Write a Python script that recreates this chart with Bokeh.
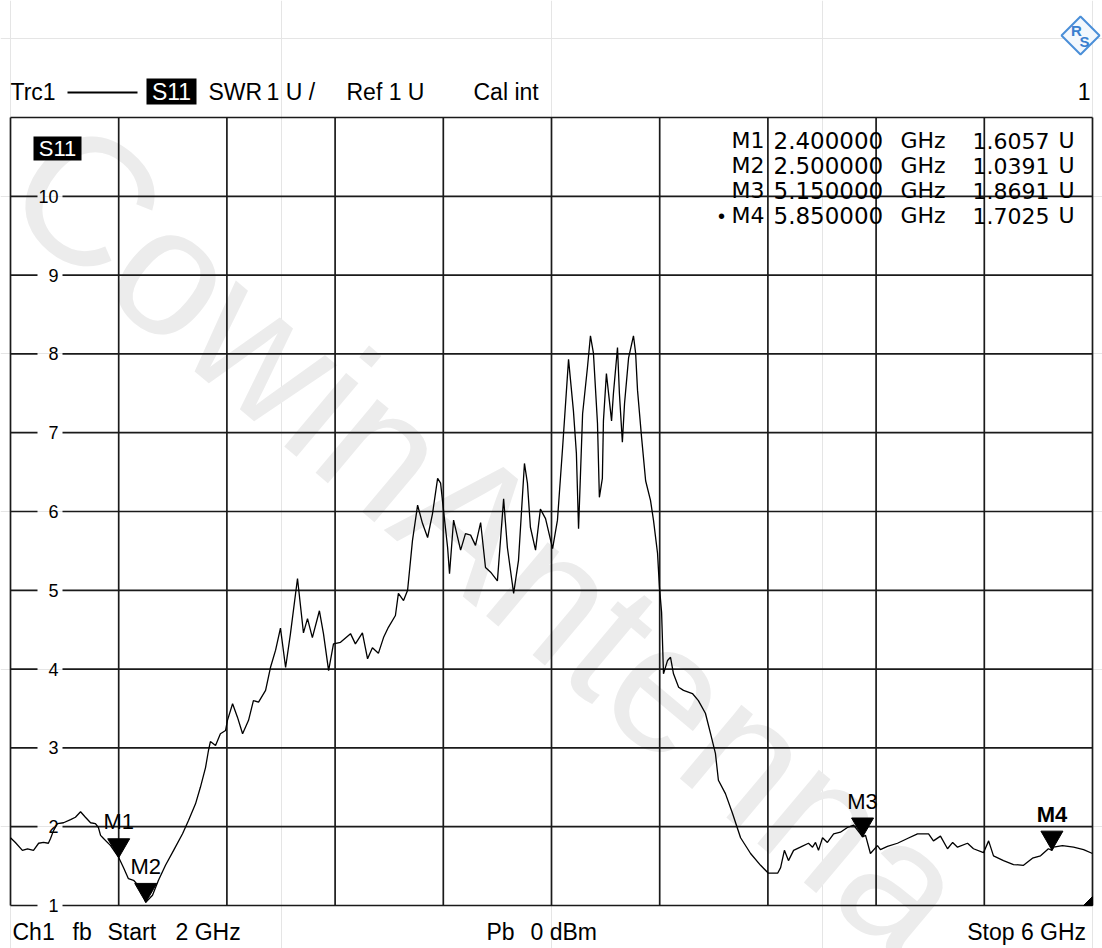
from bokeh.plotting import figure
from bokeh.models import Range1d
from bokeh.core.properties import value
from bokeh.embed import file_html
from bokeh.resources import INLINE

# ---------------- data ----------------
freq_ghz = [
    2.000, 2.018, 2.044, 2.063, 2.085, 2.104, 2.122, 2.140, 2.148, 2.159,
    2.174, 2.196, 2.222, 2.240, 2.259, 2.277, 2.296, 2.314, 2.325, 2.333,
    2.344, 2.370, 2.400, 2.418, 2.436, 2.455, 2.481, 2.500, 2.525, 2.547,
    2.573, 2.603, 2.636, 2.658, 2.684, 2.702, 2.721, 2.732, 2.739, 2.758,
    2.776, 2.795, 2.802, 2.821, 2.839, 2.858, 2.880, 2.898, 2.917, 2.943,
    2.961, 2.980, 2.998, 3.017, 3.035, 3.061, 3.083, 3.098, 3.116, 3.142,
    3.157, 3.176, 3.194, 3.220, 3.257, 3.275, 3.301, 3.320, 3.338, 3.360,
    3.379, 3.397, 3.423, 3.434, 3.453, 3.468, 3.486, 3.505, 3.523, 3.542,
    3.560, 3.579, 3.590, 3.601, 3.616, 3.623, 3.638, 3.664, 3.682, 3.701,
    3.719, 3.738, 3.756, 3.775, 3.800, 3.823, 3.837, 3.860, 3.878, 3.900,
    3.911, 3.922, 3.941, 3.959, 3.978, 4.004, 4.022, 4.041, 4.063, 4.081,
    4.092, 4.100, 4.115, 4.133, 4.144, 4.155, 4.170, 4.177, 4.188, 4.192,
    4.203, 4.218, 4.222, 4.229, 4.244, 4.251, 4.262, 4.270, 4.285, 4.303,
    4.311, 4.318, 4.333, 4.348, 4.366, 4.377, 4.392, 4.399, 4.407, 4.414,
    4.429, 4.440, 4.451, 4.470, 4.488, 4.521, 4.543, 4.569, 4.588, 4.606,
    4.617, 4.643, 4.669, 4.699, 4.736, 4.773, 4.802, 4.836, 4.847, 4.861,
    4.876, 4.895, 4.920, 4.950, 4.965, 4.976, 4.987, 5.002, 5.020, 5.043,
    5.068, 5.094, 5.117, 5.142, 5.150, 5.161, 5.179, 5.205, 5.216, 5.242,
    5.279, 5.316, 5.353, 5.394, 5.412, 5.438, 5.464, 5.483, 5.501, 5.538,
    5.560, 5.597, 5.616, 5.634, 5.671, 5.708, 5.745, 5.778, 5.808, 5.837,
    5.850, 5.856, 5.889, 5.930, 5.967, 6.000]

swr = [
    1.86, 1.80, 1.70, 1.72, 1.70, 1.79, 1.80, 1.79, 1.85, 1.95,
    2.04, 2.05, 2.09, 2.12, 2.19, 2.12, 2.05, 2.04, 1.99, 1.89,
    1.85, 1.76, 1.61, 1.48, 1.34, 1.32, 1.22, 1.04, 1.13, 1.32,
    1.51, 1.70, 1.91, 2.08, 2.29, 2.50, 2.75, 2.97, 3.08, 3.03,
    3.18, 3.22, 3.35, 3.56, 3.39, 3.18, 3.35, 3.60, 3.58, 3.73,
    4.02, 4.24, 4.52, 4.02, 4.45, 5.15, 4.46, 4.64, 4.40, 4.74,
    4.45, 3.98, 4.32, 4.34, 4.45, 4.32, 4.46, 4.13, 4.27, 4.20,
    4.40, 4.53, 4.68, 4.96, 4.87, 5.00, 5.63, 6.08, 5.85, 5.67,
    5.97, 6.42, 6.36, 6.01, 5.54, 5.21, 5.89, 5.51, 5.72, 5.70,
    5.57, 5.86, 5.29, 5.23, 5.12, 6.16, 5.54, 4.96, 5.38, 6.61,
    6.36, 5.80, 5.51, 6.03, 5.91, 5.53, 5.89, 6.81, 7.93, 7.28,
    6.74, 5.78, 7.24, 7.83, 8.23, 8.01, 7.12, 6.18, 6.42, 7.15,
    7.75, 7.28, 7.15, 7.50, 8.08, 7.50, 6.88, 7.37, 7.95, 8.23,
    8.01, 7.54, 6.94, 6.39, 6.14, 5.89, 5.47, 5.04, 4.72, 3.94,
    4.11, 4.15, 3.94, 3.77, 3.73, 3.69, 3.60, 3.44, 3.18, 2.93,
    2.59, 2.42, 2.17, 1.86, 1.66, 1.51, 1.41, 1.41, 1.48, 1.70,
    1.57, 1.70, 1.74, 1.79, 1.74, 1.80, 1.70, 1.86, 1.80, 1.91,
    1.93, 1.99, 2.02, 1.91, 1.87, 1.89, 1.66, 1.76, 1.71, 1.75,
    1.79, 1.85, 1.91, 1.91, 1.82, 1.88, 1.72, 1.80, 1.74, 1.79,
    1.72, 1.67, 1.82, 1.63, 1.57, 1.52, 1.51, 1.60, 1.63, 1.72,
    1.70, 1.74, 1.76, 1.74, 1.71, 1.66]

marker_names = ["M1", "M2", "M3", "M4"]
marker_freq = [2.40, 2.50, 5.15, 5.85]
marker_swr = [1.6057, 1.0391, 1.8691, 1.7025]
marker_freq_text = ["2.400000", "2.500000", "5.150000", "5.850000"]
marker_val_text = ["1.6057", "1.0391", "1.8691", "1.7025"]

x_grid = [2.0, 2.4, 2.8, 3.2, 3.6, 4.0, 4.4, 4.8, 5.2, 5.6, 6.0]
y_tick_values = [1, 2, 3, 4, 5, 6, 7, 8, 9, 10]
y_tick_labels = ["1", "2", "3", "4", "5", "6", "7", "8", "9", "10"]
y_top = 11

# ---------------- layout helpers (canvas pixels -> data) ----------------
F0, F1, Y0, Y1 = 2.0, 6.0, 1.0, 11.0
PX_L, PX_R, PY_T, PY_B = 10.0, 1092.0, 117.0, 905.0
SX = (F1 - F0) / (PX_R - PX_L)
SY = (Y1 - Y0) / (PY_B - PY_T)
W, H = 1102, 948


def fx(px):
    return F0 + (px - PX_L) * SX


def fy(py):
    return Y0 + (PY_B - py) * SY


p = figure(width=W, height=H, title=None,
           x_range=Range1d(fx(0), fx(W)), y_range=Range1d(fy(H), fy(0)),
           output_backend="svg", toolbar_location=None,
           x_axis_location=None, y_axis_location=None,
           min_border=0, min_border_left=0, min_border_right=0,
           min_border_top=0, min_border_bottom=0,
           outline_line_color=None, background_fill_color="white",
           border_fill_color="white")

FONT = "Liberation Sans"
TFONT = "DejaVu Sans"


def txt(px, py, s, size="22px", align="left", color="black", style="normal",
        font=FONT, angle=0.0, baseline="middle"):
    p.text(x=[fx(px)], y=[fy(py)], text=[s], text_font=value(font),
           text_font_size=size, text_align=align, text_baseline=baseline,
           text_color=color, text_font_style=style, angle=angle,
           angle_units="deg")


# watermark
txt(36, 156, "CowinAntenna", size="182px", color="#ececec", angle=-40,
    baseline="alphabetic")

# grid (vertical)
p.segment(x0=x_grid, y0=[Y0] * len(x_grid), x1=x_grid, y1=[Y1] * len(x_grid),
          line_color="#1a1a1a", line_width=1.7)
# grid (horizontal, with gaps where labels sit)
hx0, hx1, hy = [], [], []
for t in y_tick_values:
    hx0 += [F0, fx(62)]
    hx1 += [fx(37), F1]
    hy += [t, t]
hx0.append(F0)
hx1.append(F1)
hy.append(y_top)
p.segment(x0=hx0, y0=hy, x1=hx1, y1=hy, line_color="#1a1a1a", line_width=1.7)

for t, lab in zip(y_tick_values, y_tick_labels):
    txt(58, PY_B - (t - Y0) / SY, lab, size="18px", align="right")

# trace
p.line(freq_ghz, swr, line_color="black", line_width=1.3)

# out-of-range indicator bottom-right
p.patch([fx(1083), F1, F1], [Y0, Y0, fy(896)], fill_color="black",
        line_color="black")

# markers
dx = 11 * SX
dh = 19 * SY
p.patches(xs=[[f - dx, f + dx, f] for f in marker_freq],
          ys=[[v + dh, v + dh, v] for v in marker_swr],
          fill_color="black", line_color="black")
for name, f, v in zip(marker_names, marker_freq, marker_swr):
    py = PY_B - (v - Y0) / SY - 36
    px = PX_L + (f - F0) / SX
    txt(px, py, name, size="22px", align="center",
        style="bold" if name == "M4" else "normal")

# header
txt(10, 91, "Trc1", size="23px")
p.segment(x0=[fx(67)], y0=[fy(92)], x1=[fx(137)], y1=[fy(92)],
          line_color="black", line_width=2)
p.quad(left=[fx(146)], right=[fx(196)], top=[fy(78)], bottom=[fy(104)],
       fill_color="black", line_color=None)
txt(171, 91, "S11", size="23px", align="center", color="white")
txt(208, 91, "SWR", size="23px")
txt(266, 91, "1 U /", size="23px")
txt(346, 91, "Ref 1 U", size="23px")
txt(473, 91, "Cal int", size="23px")
txt(1090, 91, "1", size="23px", align="right")

# S11 label in diagram
p.quad(left=[fx(33)], right=[fx(81)], top=[fy(136)], bottom=[fy(160)],
       fill_color="black", line_color=None)
txt(57, 148, "S11", size="22px", align="center", color="white")

# marker table
row_y = [140, 165, 190, 215]
for name, ft, vt, ry in zip(marker_names, marker_freq_text, marker_val_text, row_y):
    txt(764, ry, name, size="22px", align="right", font=TFONT)
    txt(773, ry, ft, size="23px", font=TFONT)
    txt(900, ry, "GHz", size="22px", font=TFONT)
    txt(972, ry, vt, size="22px", font=TFONT)
    txt(1058, ry, "U", size="22px", font=TFONT)
txt(721, row_y[3], "•", size="20px", align="center")

# footer
txt(12, 931, "Ch1", size="23px")
txt(72, 931, "fb", size="23px")
txt(107, 931, "Start", size="23px")
txt(175, 931, "2 GHz", size="23px")
txt(486, 931, "Pb", size="23px")
txt(530, 931, "0 dBm", size="23px")
txt(1092, 931, "Stop  6 GHz", size="23px", align="right")

# R&S logo
lx, ly, lr = 1080, 35, 19
p.patch([fx(lx), fx(lx + lr), fx(lx), fx(lx - lr)],
        [fy(ly - lr), fy(ly), fy(ly + lr), fy(ly)],
        fill_color="#f3f8fd", line_color="#4a8fd8", line_width=2)
txt(lx - 4, ly - 5, "R", size="15px", align="center", color="#3a7fcf", style="bold")
txt(lx + 4, ly + 6, "S", size="15px", align="center", color="#3a7fcf", style="bold")

open("out.html", "w").write(file_html(p, INLINE))
